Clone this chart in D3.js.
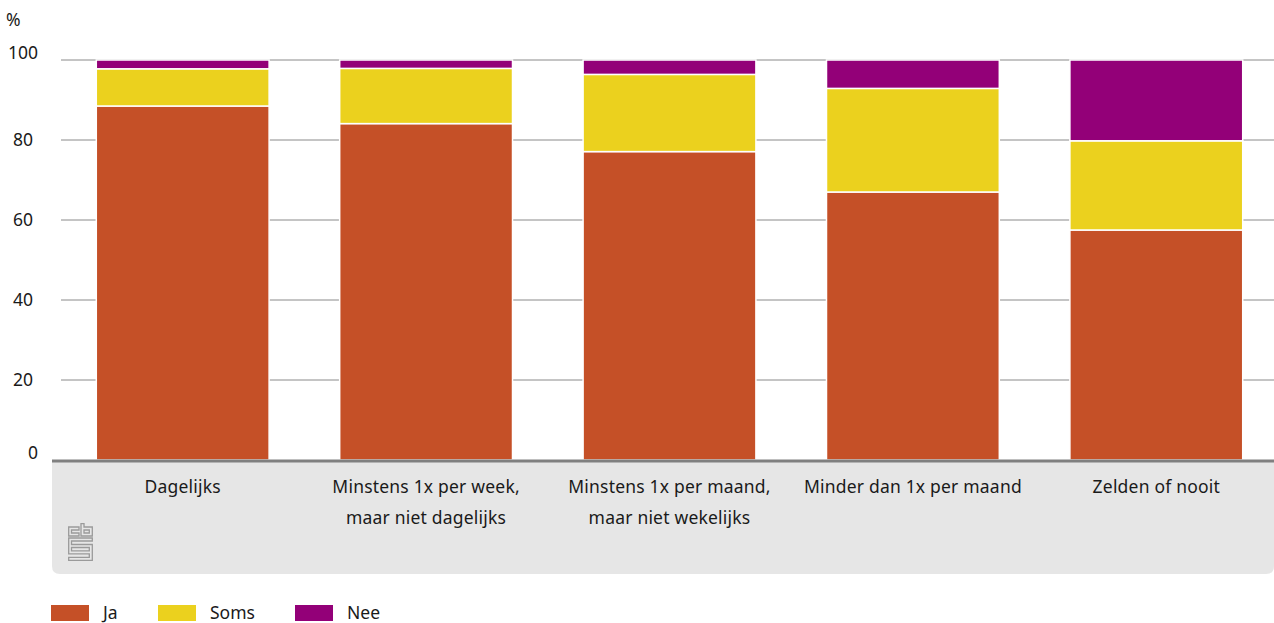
<!DOCTYPE html>
<html>
<head>
<meta charset="utf-8">
<script src="https://cdn.jsdelivr.net/npm/d3@7"></script>
<style>
  body { margin: 0; background: #fff; }
  svg { display: block; font-family: "Noto Sans", sans-serif; }
</style>
</head>
<body>
<svg id="chart" width="1274" height="623"></svg>
<script>
const categories = [
  ["Dagelijks"],
  ["Minstens 1x per week,", "maar niet dagelijks"],
  ["Minstens 1x per maand,", "maar niet wekelijks"],
  ["Minder dan 1x per maand"],
  ["Zelden of nooit"]
];
const seriesNames = ["Ja", "Soms", "Nee"];
const ja   = [88.5, 84.1, 77.1, 67.0, 57.5];
const soms = [9.3, 13.8, 19.3, 25.9, 22.3];
const nee  = [2.2, 2.1, 3.6, 7.1, 20.2];
const yTicks = [0, 20, 40, 60, 80, 100];
const colors = ["#c55027", "#ebd11e", "#930078"];

const svg = d3.select("#chart");
const W = 1274;
const FS = 17.5;
const y = d3.scaleLinear().domain([0, 100]).range([460, 60]);
const x = d3.scaleBand().domain(d3.range(categories.length)).range([61, 1278]).paddingInner(0.29).paddingOuter(0.145);

// gray category panel
const panelTop = 461, panelBottom = 574, panelLeft = 52, r = 8;
svg.append("path")
  .attr("d", `M${panelLeft},${panelTop} H${W} V${panelBottom - r} Q${W},${panelBottom} ${W - r},${panelBottom} H${panelLeft + r} Q${panelLeft},${panelBottom} ${panelLeft},${panelBottom - r} Z`)
  .attr("fill", "#e6e6e6");

// gridlines
svg.append("g").selectAll("line").data(yTicks.filter(d => d > 0)).join("line")
  .attr("x1", 61).attr("x2", W)
  .attr("y1", d => y(d)).attr("y2", d => y(d))
  .attr("stroke", "#8a8a8a").attr("stroke-width", 1);

// y tick labels
svg.append("g").selectAll("text").data(yTicks).join("text")
  .attr("x", d => d === 0 ? 33 : 23)
  .attr("y", d => (d === 100 || d === 0) ? y(d) - 7 : y(d))
  .attr("dy", "0.35em")
  .attr("text-anchor", "middle")
  .attr("font-size", FS).attr("fill", "#1a1a1a")
  .text(d => d);
svg.append("text").attr("x", 6).attr("y", 26).attr("font-size", FS).attr("fill", "#1a1a1a").text("%");

// stacked bars
const rows = categories.map((c, i) => ({ i, Ja: ja[i], Soms: soms[i], Nee: nee[i] }));
const stack = d3.stack().keys(seriesNames)(rows);
svg.append("g").selectAll("g").data(stack).join("g")
  .attr("fill", (d, k) => colors[k])
  .selectAll("rect").data(d => d).join("rect")
  .attr("x", d => x(d.data.i))
  .attr("width", x.bandwidth())
  .attr("y", d => y(d[1]))
  .attr("height", d => y(d[0]) - y(d[1]))
  .attr("stroke", "#fff").attr("stroke-width", 1.5);

// baseline
svg.append("line").attr("x1", panelLeft).attr("x2", W).attr("y1", y(0) + 1).attr("y2", y(0) + 1)
  .attr("stroke", "#808080").attr("stroke-width", 3);

// category labels
const lab = svg.append("g").selectAll("text").data(categories).join("text")
  .attr("text-anchor", "middle").attr("font-size", FS).attr("fill", "#1a1a1a")
  .attr("letter-spacing", 0.2);
lab.selectAll("tspan").data((d, i) => d.map(t => ({ t, i }))).join("tspan")
  .attr("x", d => x(d.i) + x.bandwidth() / 2)
  .attr("y", (d, j) => 493 + j * 31)
  .text(d => d.t);

// cbs logo (approximate)
const logo = svg.append("g").attr("transform", "translate(68,523)")
  .attr("fill", "none").attr("stroke", "#9a9a9a").attr("stroke-width", 1.3);
logo.append("path").attr("d", "M0.7,4 H11 V7 H3.5 V10 H11 V13 H0.7 Z");
logo.append("path").attr("d", "M13,0.7 H16 V4 H24.3 V13 H13 Z M16,7 V10 H21.3 V7 Z");
logo.append("path").attr("d", "M0.7,15 H24.3 V18 H3.5 V21.5 H24.3 V37.3 H0.7 V34.3 H21.3 V30.8 H0.7 Z M3.5,24.5 H21.3 V27.8 H3.5 Z");

// legend
const leg = svg.append("g").selectAll("g").data(seriesNames).join("g")
  .attr("transform", (d, k) => `translate(${[51, 158, 295][k]},605)`);
leg.append("rect").attr("width", 38).attr("height", 16).attr("fill", (d, k) => colors[k]);
leg.append("text").attr("x", 52).attr("y", 14).attr("font-size", FS).attr("fill", "#1a1a1a").text(d => d);
</script>
</body>
</html>
